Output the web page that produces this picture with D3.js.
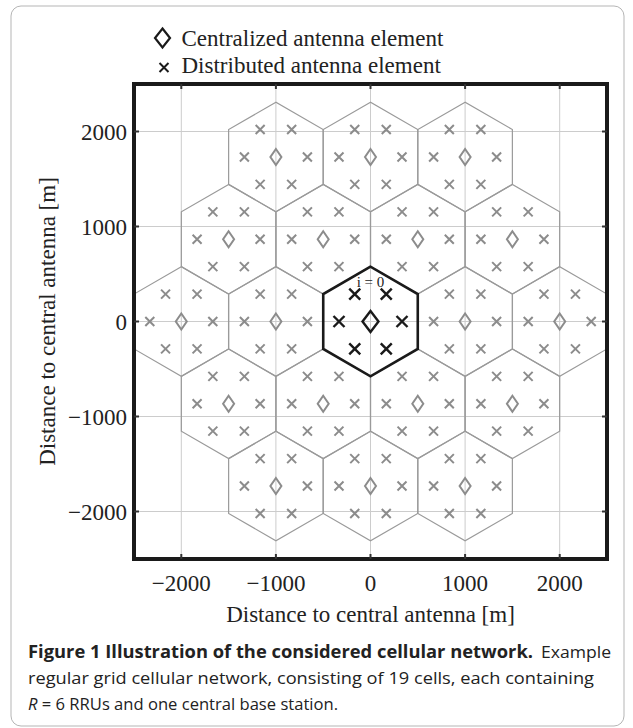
<!DOCTYPE html>
<html>
<head>
<meta charset="utf-8">
<script src="https://cdn.jsdelivr.net/npm/d3@7"></script>
<style>
  body { margin: 0; background: #fff; }
  svg { display: block; }
</style>
</head>
<body>
<svg id="chart"></svg>
<script>
// cell centres (m) of the 19-cell grid
const cellX = [-1000, 0, 1000, -1500, -500, 500, 1500, -2000, -1000, 0, 1000, 2000, -1500, -500, 500, 1500, -1000, 0, 1000];
const cellY = [1732, 1732, 1732, 866, 866, 866, 866, 0, 0, 0, 0, 0, -866, -866, -866, -866, -1732, -1732, -1732];
// RRU positions relative to the cell centre
const rruAngles = [0, 60, 120, 180, 240, 300];
const rruRadius = 333;
const cellRadius = 577;
const ticks = [-2000, -1000, 0, 1000, 2000];
const legendLabels = ['Centralized antenna element', 'Distributed antenna element'];

const W = 633, H = 728;
const svg = d3.select('#chart').attr('width', W).attr('height', H);

const x = d3.scaleLinear().domain([-2500, 2500]).range([134, 607]);
const y = d3.scaleLinear().domain([-2500, 2500]).range([559, 84]);

// outer figure box
svg.append('rect')
  .attr('x', 11).attr('y', 6).attr('width', 613).attr('height', 720)
  .attr('rx', 10).attr('fill', 'none').attr('stroke', '#b5b5b5').attr('stroke-width', 1);

svg.append('clipPath').attr('id', 'plotclip')
  .append('rect')
  .attr('x', x(-2500)).attr('y', y(2500))
  .attr('width', x(2500) - x(-2500)).attr('height', y(-2500) - y(2500));

// grid
const grid = svg.append('g').attr('stroke', '#cccccc').attr('stroke-width', 1);
grid.selectAll('.gx').data(ticks).enter().append('line')
  .attr('x1', d => x(d)).attr('x2', d => x(d))
  .attr('y1', y(2500)).attr('y2', y(-2500));
grid.selectAll('.gy').data(ticks).enter().append('line')
  .attr('y1', d => y(d)).attr('y2', d => y(d))
  .attr('x1', x(-2500)).attr('x2', x(2500));

const cells = cellX.map((cx, i) => ({ cx, cy: cellY[i], centre: cx === 0 && cellY[i] === 0 }));

const hexPath = c => {
  const pts = d3.range(6).map(k => {
    const a = (90 + 60 * k) * Math.PI / 180;
    return [x(c.cx + cellRadius * Math.cos(a)), y(c.cy + cellRadius * Math.sin(a))];
  });
  return d3.line()(pts) + 'Z';
};

const plot = svg.append('g').attr('clip-path', 'url(#plotclip)');

// hexagons, grey first then the centre cell in black
plot.selectAll('.hex').data(cells.filter(c => !c.centre)).enter().append('path')
  .attr('d', hexPath).attr('fill', 'none')
  .attr('stroke', '#9a9a9a').attr('stroke-width', 1.2);
plot.selectAll('.hexc').data(cells.filter(c => c.centre)).enter().append('path')
  .attr('d', hexPath).attr('fill', 'none')
  .attr('stroke', '#1a1a1a').attr('stroke-width', 2.6);

// distributed antennas (crosses)
const rrus = [];
cells.forEach(c => rruAngles.forEach(a => {
  rrus.push({
    px: c.cx + rruRadius * Math.cos(a * Math.PI / 180),
    py: c.cy + rruRadius * Math.sin(a * Math.PI / 180),
    centre: c.centre,
  });
}));
const cross = s => `M${-s},${-s}L${s},${s}M${-s},${s}L${s},${-s}`;
plot.selectAll('.rru').data(rrus).enter().append('path')
  .attr('transform', d => `translate(${x(d.px)},${y(d.py)})`)
  .attr('d', d => cross(d.centre ? 5.5 : 4.5))
  .attr('fill', 'none')
  .attr('stroke', d => d.centre ? '#1a1a1a' : '#8c8c8c')
  .attr('stroke-width', d => d.centre ? 2.4 : 2);

// centralized antennas (diamonds)
const diamond = (w, h) => `M0,${-h}L${w},0L0,${h}L${-w},0Z`;
plot.selectAll('.bs').data(cells).enter().append('path')
  .attr('transform', d => `translate(${x(d.cx)},${y(d.cy)})`)
  .attr('d', d => d.centre ? diamond(8, 10.5) : diamond(5.5, 8))
  .attr('fill', 'none')
  .attr('stroke', d => d.centre ? '#1a1a1a' : '#8c8c8c')
  .attr('stroke-width', d => d.centre ? 2.4 : 2);

svg.append('text')
  .attr('x', x(0)).attr('y', y(0) - 35)
  .attr('text-anchor', 'middle')
  .attr('font-family', 'Liberation Serif, serif').attr('font-size', 15)
  .attr('fill', '#222')
  .text('i = 0');

// frame and tick marks
svg.append('rect')
  .attr('x', x(-2500)).attr('y', y(2500))
  .attr('width', x(2500) - x(-2500)).attr('height', y(-2500) - y(2500))
  .attr('fill', 'none').attr('stroke', '#1a1a1a').attr('stroke-width', 4);

const tk = svg.append('g').attr('stroke', '#333').attr('stroke-width', 2);
ticks.forEach(t => {
  tk.append('line').attr('x1', x(t)).attr('x2', x(t)).attr('y1', y(-2500)).attr('y2', y(-2500) - 5);
  tk.append('line').attr('x1', x(t)).attr('x2', x(t)).attr('y1', y(2500)).attr('y2', y(2500) + 5);
  tk.append('line').attr('y1', y(t)).attr('y2', y(t)).attr('x1', x(-2500)).attr('x2', x(-2500) + 5);
  tk.append('line').attr('y1', y(t)).attr('y2', y(t)).attr('x1', x(2500)).attr('x2', x(2500) - 5);
});

const fmt = d => (d < 0 ? '\u2212' : '') + Math.abs(d);
const serif = 'Liberation Serif, Times New Roman, serif';

svg.append('g').selectAll('text').data(ticks).enter().append('text')
  .attr('x', d => x(d)).attr('y', 591)
  .attr('text-anchor', 'middle')
  .attr('font-family', serif).attr('font-size', 23).attr('fill', '#222')
  .text(fmt);

svg.append('g').selectAll('text').data(ticks).enter().append('text')
  .attr('x', 127).attr('y', d => y(d) + 8)
  .attr('text-anchor', 'end')
  .attr('font-family', serif).attr('font-size', 23).attr('fill', '#222')
  .text(fmt);

svg.append('text')
  .attr('x', x(0)).attr('y', 622)
  .attr('text-anchor', 'middle')
  .attr('font-family', serif).attr('font-size', 23).attr('fill', '#222')
  .text('Distance to central antenna [m]');

svg.append('text')
  .attr('transform', `translate(55,${y(0)}) rotate(-90)`)
  .attr('text-anchor', 'middle')
  .attr('font-family', serif).attr('font-size', 23).attr('fill', '#222')
  .text('Distance to central antenna [m]');

// legend
const lg = svg.append('g');
lg.append('path')
  .attr('transform', 'translate(162.5,38)')
  .attr('d', diamond(7.5, 9.5))
  .attr('fill', 'none').attr('stroke', '#1a1a1a').attr('stroke-width', 2.2);
lg.append('path')
  .attr('transform', 'translate(164,67.5)')
  .attr('d', cross(4.5))
  .attr('fill', 'none').attr('stroke', '#1a1a1a').attr('stroke-width', 2);
lg.selectAll('text').data(legendLabels).enter().append('text')
  .attr('x', 181.5).attr('y', (d, i) => 46 + i * 27)
  .attr('font-family', serif).attr('font-size', 23).attr('fill', '#222')
  .text(d => d);

// caption
const sans = 'Open Sans, Noto Sans, sans-serif';
const cap = svg.append('g').attr('font-family', sans).attr('font-size', 17).attr('fill', '#222');
cap.append('text').attr('x', 28).attr('y', 658)
  .attr('font-weight', 'bold')
  .attr('textLength', 505).attr('lengthAdjust', 'spacingAndGlyphs')
  .text('Figure 1 Illustration of the considered cellular network.');
cap.append('text').attr('x', 541).attr('y', 658)
  .attr('textLength', 70).attr('lengthAdjust', 'spacingAndGlyphs')
  .text('Example');
cap.append('text').attr('x', 28).attr('y', 684)
  .attr('textLength', 566).attr('lengthAdjust', 'spacingAndGlyphs')
  .text('regular grid cellular network, consisting of 19 cells, each containing');
const l3 = cap.append('text').attr('x', 28).attr('y', 710)
  .attr('textLength', 310).attr('lengthAdjust', 'spacingAndGlyphs');
l3.append('tspan').attr('font-style', 'italic').text('R');
l3.append('tspan').text(' = 6 RRUs and one central base station.');
</script>
</body>
</html>
